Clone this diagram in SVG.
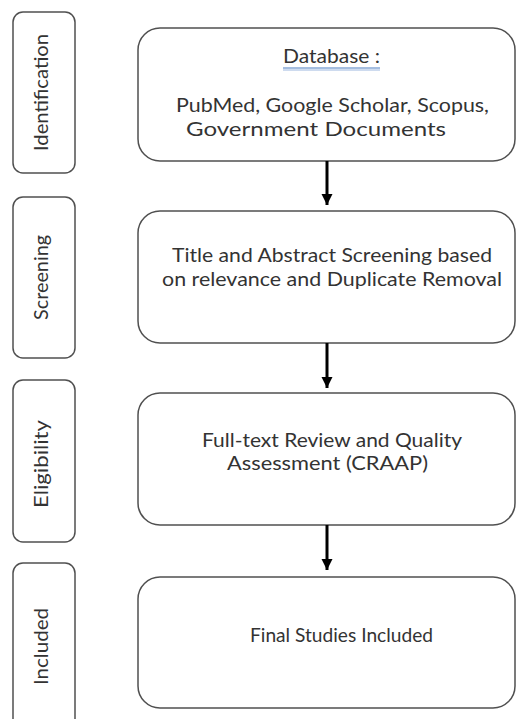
<svg xmlns="http://www.w3.org/2000/svg" width="516" height="719" viewBox="0 0 516 719">
  <defs>
    <style>
      .pill { fill: #ffffff; stroke: #505050; stroke-width: 1.5; }
      .box { fill: #ffffff; stroke: #505050; stroke-width: 1.5; }
      .t { font-family: Lato, "Open Sans", "Noto Sans", sans-serif; font-size: 19px; fill: #333333; }
      .side { font-family: Lato, "Open Sans", "Noto Sans", sans-serif; font-size: 20px; fill: #333333; text-anchor: middle; }
      .conn { stroke: #000000; stroke-width: 3; fill: none; }
    </style>
    <marker id="arrow" markerUnits="userSpaceOnUse" markerWidth="12" markerHeight="12" viewBox="0 0 12 12" refX="11" refY="6" orient="auto">
      <path d="M0,0.5 L11,6 L0,11.5 Z" fill="#000000"/>
    </marker>
  </defs>
  <rect width="516" height="719" fill="#ffffff"/>

  <g id="stage-identification">
    <rect class="pill" x="13" y="12" width="62" height="161" rx="10" ry="10"/>
    <text class="side" transform="translate(47.5,92.5) rotate(-90)" textLength="117" lengthAdjust="spacingAndGlyphs">Identification</text>
  </g>
  <g id="stage-screening">
    <rect class="pill" x="13" y="197" width="62" height="161" rx="10" ry="10"/>
    <text class="side" transform="translate(47.5,277.5) rotate(-90)" textLength="85" lengthAdjust="spacingAndGlyphs">Screening</text>
  </g>
  <g id="stage-eligibility">
    <rect class="pill" x="13" y="380" width="62" height="162" rx="10" ry="10"/>
    <text class="side" transform="translate(47.5,464) rotate(-90)" textLength="88" lengthAdjust="spacingAndGlyphs">Eligibility</text>
  </g>
  <g id="stage-included">
    <rect class="pill" x="13" y="563" width="62" height="167" rx="10" ry="10"/>
    <text class="side" transform="translate(47.5,646.5) rotate(-90)" textLength="77" lengthAdjust="spacingAndGlyphs">Included</text>
  </g>

  <g id="box-database">
    <rect class="box" x="138" y="28" width="377" height="133" rx="22" ry="22"/>
    <text class="t" x="283" y="63" textLength="97" lengthAdjust="spacingAndGlyphs">Database :</text>
    <line x1="283" y1="68" x2="380" y2="68" stroke="#4a7cc0" stroke-width="1"/>
    <line x1="283" y1="70" x2="380" y2="70" stroke="#9db8e0" stroke-width="1"/>
    <text class="t" x="176" y="112" textLength="313" lengthAdjust="spacingAndGlyphs">PubMed, Google Scholar, Scopus,</text>
    <text class="t" x="186" y="135.5" textLength="260" lengthAdjust="spacingAndGlyphs">Government Documents</text>
  </g>
  <g id="box-screening">
    <rect class="box" x="138" y="211" width="377" height="132" rx="22" ry="22"/>
    <text class="t" x="172" y="262" textLength="320" lengthAdjust="spacingAndGlyphs">Title and Abstract Screening based</text>
    <text class="t" x="162" y="286" textLength="340" lengthAdjust="spacingAndGlyphs">on relevance and Duplicate Removal</text>
  </g>
  <g id="box-eligibility">
    <rect class="box" x="138" y="393" width="377" height="132" rx="22" ry="22"/>
    <text class="t" x="202" y="446.5" textLength="260" lengthAdjust="spacingAndGlyphs">Full-text Review and Quality</text>
    <text class="t" x="227" y="470" textLength="201" lengthAdjust="spacingAndGlyphs">Assessment (CRAAP)</text>
  </g>
  <g id="box-included">
    <rect class="box" x="138" y="577" width="377" height="131" rx="22" ry="22"/>
    <text class="t" x="250" y="642" textLength="183" lengthAdjust="spacingAndGlyphs">Final Studies Included</text>
  </g>

  <g id="connectors">
    <line class="conn" x1="327" y1="161" x2="327" y2="205" marker-end="url(#arrow)"/>
    <line class="conn" x1="327" y1="343" x2="327" y2="388" marker-end="url(#arrow)"/>
    <line class="conn" x1="327" y1="525" x2="327" y2="570" marker-end="url(#arrow)"/>
  </g>
</svg>
